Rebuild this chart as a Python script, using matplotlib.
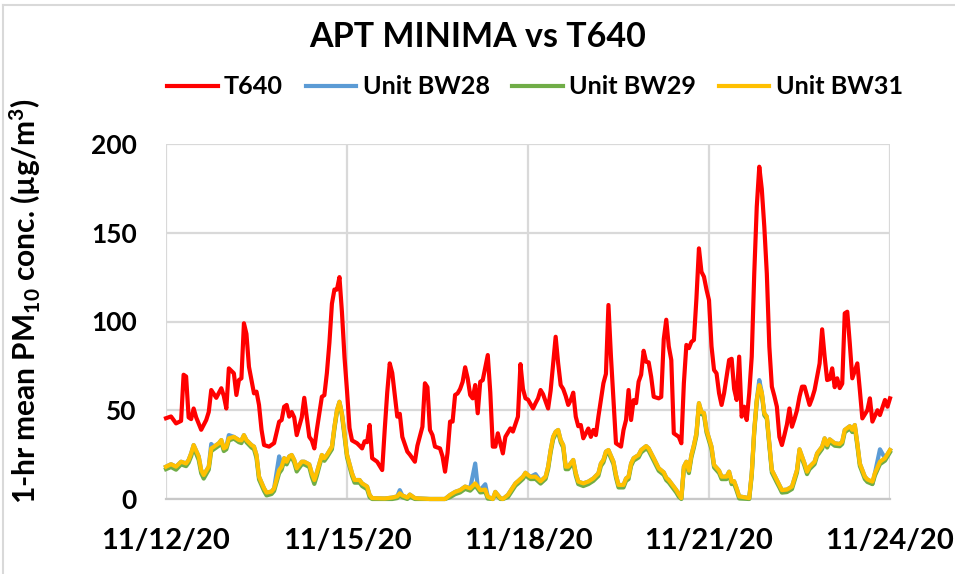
import numpy as np
import matplotlib
matplotlib.use('Agg')
import matplotlib.pyplot as plt
import matplotlib.dates as mdates
from matplotlib.lines import Line2D

plt.rcParams['font.family'] = ['Lato', 'DejaVu Sans']
plt.rcParams['font.weight'] = 'bold'
plt.rcParams['mathtext.fontset'] = 'custom'
plt.rcParams['mathtext.rm'] = 'Lato:bold'
plt.rcParams['mathtext.it'] = 'Lato:bold'
plt.rcParams['mathtext.bf'] = 'Lato:bold'

# hours after 11/12/20 00:00
t640_hours = [0, 2, 4, 6, 7, 8, 9, 10, 11, 12,
              14, 16, 17, 18, 20, 22, 23, 24, 25, 27,
              28, 29, 30, 31, 32, 33, 35, 36, 37, 38,
              39, 41, 43, 45, 46, 47, 48, 49, 50, 51,
              52, 54, 55, 56, 57, 58, 59, 60, 62, 63,
              64, 65, 66, 67, 68, 69, 70, 71, 72, 73,
              74, 76, 77, 78, 79, 80, 81, 82, 83, 84,
              86, 87, 88, 89, 90, 92, 93, 94, 96, 97,
              98, 99, 100, 102, 103, 104, 105, 106, 107, 109,
              110, 111, 112, 113, 114, 115, 116, 117, 118, 119,
              120, 121, 122, 123, 124, 125, 126, 128, 129, 130,
              131, 132, 134, 135, 137, 138, 140, 141, 142, 143,
              144, 146, 147, 148, 149, 150, 152, 153, 154, 155,
              156, 157, 158, 159, 160, 161, 162, 163, 164, 165,
              166, 168, 169, 170, 171, 172, 174, 175, 176, 177,
              178, 179, 181, 182, 183, 184, 185, 186, 187, 188,
              189, 190, 191, 192, 193, 194, 196, 197, 198, 199,
              200, 201, 202, 204, 205, 206, 207, 208, 209, 210,
              211, 212, 213, 214, 215, 216, 217, 218, 219, 220,
              221, 222, 224, 225, 226, 227, 228, 229, 230, 231,
              232, 233, 234, 235, 236, 237, 238, 239, 240, 241,
              242, 243, 244, 245, 246, 247, 248, 249, 250, 251,
              252, 253, 254, 256, 257, 258, 260, 261, 262, 263,
              264, 265, 266, 267, 268, 269, 270, 271, 272, 273,
              275, 276, 277, 279, 280, 281, 283, 284, 286, 287,
              288]
t640 = [45.5, 46.5, 42.6, 44, 70, 69, 46, 45, 51, 46,
        39, 44.5, 49, 61.4, 57, 62.4, 58, 51, 73.6, 70.8,
        58.6, 67, 68, 99, 93, 74.5, 59.5, 60.5, 53, 39,
        30.4, 29.5, 31.5, 43.5, 44.5, 52, 53, 46.4, 49, 46,
        36, 46, 57, 46, 35, 33, 28.5, 39, 57.6, 58.5,
        71, 88, 110, 118, 118, 125, 105, 80, 61, 40,
        33, 31.4, 30, 28.5, 32.5, 32, 41.7, 23, 22, 21,
        16.3, 39, 60, 76.4, 71, 46.4, 48, 35, 26.7, 25,
        23, 21, 30, 40.7, 65.2, 63, 38.9, 36, 29.5, 28.5,
        24, 15.4, 26, 43.6, 43.6, 58.6, 59.5, 62, 66, 74.2,
        68, 58.6, 56.7, 64.2, 48.3, 66, 67, 81.1, 60, 29.5,
        29.5, 37, 25.7, 35, 39.8, 38, 46.4, 76, 62, 56.7,
        56, 51, 54, 56.7, 61.4, 59, 51, 61, 76.4, 91.4,
        76.4, 64.2, 62, 58, 53, 55.7, 59.9, 46.4, 41, 41.7,
        34.2, 39.7, 35, 38.9, 36, 46.4, 65.2, 70.5, 109.3, 80.2,
        55.8, 31.4, 29.5, 38.9, 44.5, 61.4, 44.5, 55.7, 54, 66.1,
        70, 83.5, 77.3, 77, 68.8, 57.6, 56.7, 57.5, 90, 101,
        86, 78.3, 37, 35, 31.4, 65.2, 86.8, 85, 88.5, 89.6,
        113, 141.2, 128, 125.2, 118, 112, 86, 72.7, 70.8, 59.6,
        53, 59.6, 78.3, 79, 62, 55.8, 80.2, 46.4, 52, 44.5,
        59.5, 80.2, 127, 164.7, 187.2, 174.6, 153.4, 127, 85.8, 63.3,
        58, 52, 35, 30.4, 36, 42, 51, 40.7, 45, 50,
        57.6, 63.3, 63.3, 53, 56.7, 61.4, 76.4, 95.6, 80.2, 67,
        67.5, 73.6, 63, 68, 62.5, 65, 104.6, 105.5, 87.7, 68,
        76.4, 61.4, 45.4, 50, 56.7, 43.6, 50, 47.3, 55.8, 52,
        56.7]

bw_hours = [0, 2, 4, 6, 8, 9, 10, 11, 13, 14,
            15, 17, 18, 19, 21, 22, 23, 24, 25, 27,
            29, 30, 31, 32, 34, 35, 36, 37, 39, 40,
            42, 43, 45, 46, 47, 48, 49, 50, 51, 52,
            54, 55, 57, 58, 59, 60, 61, 62, 63, 64,
            66, 67, 68, 69, 70, 71, 72, 74, 75, 77,
            78, 80, 81, 82, 87, 90, 92, 93, 94, 96,
            97, 99, 101, 105, 111, 113, 115, 117, 119, 121,
            123, 124, 125, 127, 128, 130, 131, 133, 134, 136,
            139, 140, 142, 143, 144, 145, 147, 149, 151, 152,
            153, 154, 155, 156, 157, 158, 159, 160, 162, 163,
            164, 166, 168, 170, 172, 173, 174, 175, 176, 178,
            179, 180, 182, 183, 184, 185, 186, 188, 189, 191,
            192, 194, 196, 198, 199, 200, 201, 203, 204, 205,
            206, 207, 208, 209, 210, 211, 212, 213, 214, 215,
            217, 218, 220, 221, 223, 224, 225, 226, 227, 228,
            232, 233, 234, 235, 236, 237, 238, 239, 240, 241,
            243, 244, 245, 247, 249, 251, 252, 254, 255, 256,
            258, 259, 261, 262, 263, 264, 266, 268, 269, 270,
            272, 273, 274, 275, 276, 278, 279, 281, 282, 284,
            286, 288]
bw28 = [18.2, 19.6, 18.2, 21, 20, 22, 25.7, 30.4, 24, 16.3,
        13.5, 18.2, 31, 29.4, 31.4, 33.2, 28.5, 29.4, 36, 35,
        33.2, 33, 36, 33.2, 30.4, 29.5, 24.8, 12.6, 6, 3.6,
        4.2, 6, 24, 18.5, 23, 21, 24, 24.8, 22, 17.3,
        21, 21, 19.5, 14.5, 10.7, 15, 20, 24.8, 23, 24.8,
        29.5, 40.7, 50, 54.8, 48, 37, 25, 14.5, 10.7, 10.7,
        8.8, 7, 2.3, 0.5, 0.3, 0.8, 1.5, 5, 2, 0.8,
        2.5, 0.5, 0.3, 0, 0, 2.3, 4, 5, 7, 6,
        20, 7, 5, 8.3, 1.3, 0, 4, 0.5, 0, 2.3,
        8.8, 10, 12.6, 14.8, 13.5, 12.5, 14, 10, 12.6, 18.2,
        27.6, 35, 37.9, 38.9, 33.2, 30.4, 18.2, 18.2, 22, 14.6,
        9.8, 8.8, 9.8, 11.6, 14.5, 20, 22, 26.7, 27.6, 21,
        13.5, 7.9, 7.9, 11.6, 12.6, 20, 23, 24.8, 27.6, 29.8,
        28.5, 23, 17.3, 15, 12, 10.7, 8.8, 5, 2.5, 0.5,
        18.2, 21, 16, 24.8, 30.4, 37, 54, 49, 48.5, 38.9,
        29.5, 19.2, 16, 12.6, 12.6, 15.4, 9.8, 10, 6, 1.5,
        0.5, 14.5, 38.9, 55.8, 67, 60, 48.3, 46.4, 31.4, 16.3,
        10.7, 7.9, 5, 5.3, 7, 16.3, 28, 20, 15.4, 18.2,
        21, 25.7, 29.5, 34.2, 30.4, 33.6, 31.4, 31, 32.3, 38.9,
        41, 39, 41.7, 31.4, 20, 12.6, 11, 8.5, 14.6, 28,
        23, 27.6]
bw29 = [16.8, 18, 16.5, 19.5, 18.5, 20.5, 24, 29, 22, 14.5,
        11.5, 16.5, 27, 28, 30, 32, 27, 28, 33, 34,
        32, 31.5, 35, 32, 29, 28, 23, 11, 4.5, 2,
        2.8, 4.5, 14.5, 16.5, 21.5, 19.5, 22.5, 23.5, 20.5, 15.5,
        19.5, 19.5, 18, 12.5, 8.5, 13, 18.5, 23.5, 21.5, 23.5,
        28, 39.5, 49, 54, 47, 35.5, 23.5, 13, 9.2, 9.2,
        7.3, 5.5, 1, 0, 0, 0, 0.5, 2, 1, 0,
        1.3, 0, 0, 0, 0, 1, 2.7, 3.7, 5.7, 4.7,
        7.5, 5.7, 3.7, 4, 0.2, 0, 2.7, 0, 0, 1,
        7.5, 8.7, 11.3, 13.5, 12.2, 11.2, 11.3, 8.7, 11.3, 16.8,
        26.2, 33.6, 36.6, 37.6, 32, 29, 16.8, 16.8, 20.6, 13.2,
        8.4, 7.3, 8.4, 10.2, 13, 18.6, 20.6, 25.4, 26.3, 19.6,
        12, 6.5, 6.5, 10.2, 11.2, 18.6, 21.6, 23.4, 26.2, 28.5,
        27.2, 21.6, 15.9, 13.6, 10.6, 9.3, 7.4, 3.6, 1.2, 0,
        16.8, 19.6, 14.6, 23.4, 29, 35.6, 52.8, 47.8, 47.2, 37.5,
        28, 17.8, 14.6, 11.2, 11.2, 14, 8.4, 8.6, 4.6, 0.3,
        0, 13.1, 37.6, 54.6, 63.2, 59, 47.2, 45.2, 30, 14.9,
        9.2, 6.5, 3.6, 3.9, 5.6, 14.9, 26.7, 18.6, 14, 16.8,
        19.6, 24.3, 28.2, 32.9, 29, 32.3, 30, 29.7, 31, 37.6,
        39.7, 37.7, 40.4, 30, 18.6, 11.2, 9.6, 8.4, 13.2, 19.6,
        21.6, 26.3]
bw31 = [18.2, 19.6, 18.2, 21, 20, 22, 25.7, 30.4, 24, 16.3,
        13.5, 18.2, 28.5, 29.4, 31.4, 33.2, 28.5, 29.4, 34.2, 35,
        33.2, 33, 36, 33.2, 30.4, 29.5, 24.8, 12.6, 6, 3.6,
        4.2, 6, 16.3, 18.2, 23, 21, 24, 24.8, 22, 17.3,
        21, 21, 19.5, 14.5, 10.7, 15, 20, 24.8, 23, 24.8,
        29.5, 40.7, 50, 54.8, 48, 37, 25, 14.5, 10.7, 10.7,
        8.8, 7, 2.3, 0.5, 0.3, 0.8, 1.5, 3.2, 2, 0.8,
        2.5, 0.5, 0.3, 0, 0, 2.3, 4, 5, 7, 6,
        8.8, 7, 5, 5.3, 1.3, 0, 4, 0.5, 0, 2.3,
        8.8, 10, 12.6, 14.8, 13.5, 12.5, 12.6, 10, 12.6, 18.2,
        27.6, 35, 37.9, 38.9, 33.2, 30.4, 18.2, 18.2, 22, 14.6,
        9.8, 8.8, 9.8, 11.6, 14.5, 20, 22, 26.7, 27.6, 21,
        13.5, 7.9, 7.9, 11.6, 12.6, 20, 23, 24.8, 27.6, 29.8,
        28.5, 23, 17.3, 15, 12, 10.7, 8.8, 5, 2.5, 0.5,
        18.2, 21, 16, 24.8, 30.4, 37, 54, 49, 48.5, 38.9,
        29.5, 19.2, 16, 12.6, 12.6, 15.4, 9.8, 10, 6, 1.5,
        0.5, 14.5, 38.9, 55.8, 64.2, 60, 48.3, 46.4, 31.4, 16.3,
        10.7, 7.9, 5, 5.3, 7, 16.3, 28, 20, 15.4, 18.2,
        21, 25.7, 29.5, 34.2, 30.4, 33.6, 31.4, 31, 32.3, 38.9,
        41, 39, 41.7, 31.4, 20, 12.6, 11, 9.8, 14.6, 21,
        23, 27.6]

start = np.datetime64('2020-11-12T00:00')
t640_time = start + np.array(t640_hours).astype('timedelta64[h]')
bw_time = start + np.array(bw_hours).astype('timedelta64[h]')

fig = plt.figure(figsize=(9.55, 5.74), dpi=100)
ax = fig.add_axes([166 / 955, 1 - 499 / 574, 724 / 955, 355 / 574])

lw = 3.0
ax.plot(t640_time, t640, color='#FF0000', lw=lw, label='T640', clip_on=False, zorder=3)
ax.plot(bw_time, bw28, color='#5B9BD5', lw=lw, label='Unit BW28', clip_on=False, zorder=4)
ax.plot(bw_time, bw29, color='#70AD47', lw=lw, label='Unit BW29', clip_on=False, zorder=5)
ax.plot(bw_time, bw31, color='#FFC000', lw=lw, label='Unit BW31', clip_on=False, zorder=6)

ax.set_ylim(0, 200)
ax.set_yticks([0, 50, 100, 150, 200])
ax.set_xlim(np.datetime64('2020-11-12'), np.datetime64('2020-11-24'))
ax.xaxis.set_major_locator(mdates.DayLocator(bymonthday=[12, 15, 18, 21, 24]))
ax.xaxis.set_major_formatter(mdates.DateFormatter('%m/%d/%y'))

ax.grid(True, color='#d9d9d9', lw=1.6, zorder=0)
ax.set_axisbelow(True)
for s in ['top', 'right', 'left']:
    ax.spines[s].set_visible(False)
ax.spines['bottom'].set_color('#c8c8c8')
ax.spines['bottom'].set_linewidth(1.6)

ax.tick_params(axis='y', length=0, pad=21, labelsize=19)
ax.tick_params(axis='x', length=0, pad=21, labelsize=21)

fig.text(0.5, 1 - 37 / 574, 'APT MINIMA vs T640', ha='center', va='center',
         fontsize=24.5, fontweight='bold')

fig.text(0.026, 1 - 301 / 574, r'1-hr mean PM$_{10}$ conc. (µg/m$^{3}$)',
         rotation=90, ha='center', va='center', fontsize=21.5, fontweight='bold')

fig.legend(loc='center', bbox_to_anchor=(535 / 955, 1 - 87 / 574), ncol=4,
           frameon=False, fontsize=18.2, handlelength=2.0, handletextpad=0.25,
           columnspacing=0.9)

# light chart-area border
fig.add_artist(Line2D([3 / 955, 1], [1 - 5 / 574, 1 - 5 / 574], color='#d9d9d9', lw=1.5))
fig.add_artist(Line2D([3 / 955, 3 / 955], [0, 1 - 5 / 574], color='#d9d9d9', lw=1.5))

fig.savefig('out.png', dpi=100)
